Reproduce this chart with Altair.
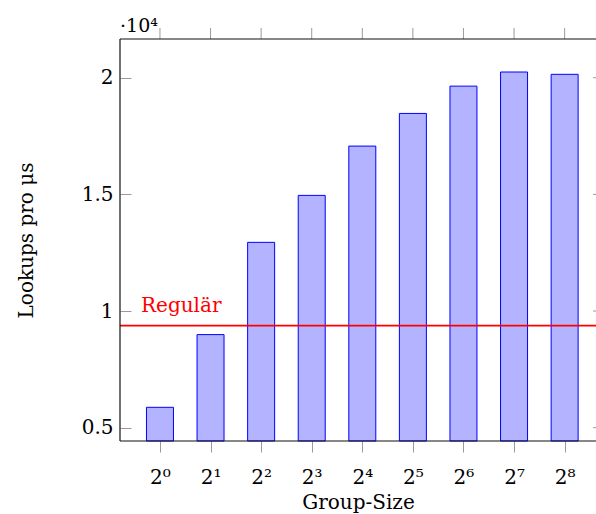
import altair as alt
import pandas as pd

# ---- data ----
labels = ['2⁰', '2¹', '2²', '2³', '2⁴', '2⁵', '2⁶', '2⁷', '2⁸']
lookups = [5874, 8990, 12945, 14957, 17070, 18470, 19640, 20245, 20146]
regular = 9374
y_ticks = [5000, 10000, 15000, 20000]
y_tick_labels = ['0.5', '1', '1.5', '2']

W, H = 476, 402
FONT = 'DejaVu Serif'
FS = 20
TICK = '#9a9a9a'
YMIN, YMAX = 4430, 21660

df = pd.DataFrame({'pos': list(range(len(labels))), 'value': lookups})
ydf = pd.DataFrame({'value': y_ticks})
one = pd.DataFrame({'regular': [regular]})  # single row for one-off marks

xscale = alt.Scale(domain=[-0.79, 8.62], nice=False, zero=False, padding=0)
yscale = alt.Scale(domain=[YMIN, YMAX], nice=False, zero=False, padding=0)

x_label_expr = "[" + ",".join("'%s'" % l for l in labels) + "][datum.value]"
y_label_expr = ("[" + ",".join("'%s'" % l for l in y_tick_labels) + "][indexof(["
                + ",".join(str(v) for v in y_ticks) + "], datum.value)]")

bars = alt.Chart(df).mark_bar(size=27, fill='#b3b3ff', stroke='#0000ff', strokeWidth=1).encode(
    x=alt.X('pos:Q', scale=xscale,
            axis=alt.Axis(values=list(range(len(labels))), labelExpr=x_label_expr,
                          title='Group-Size', tickSize=11, tickColor=TICK, domain=False,
                          grid=False, labelFont=FONT, labelFontSize=FS, labelColor='black',
                          labelPadding=15, titleFont=FONT, titleFontSize=FS,
                          titleFontWeight='normal', titleColor='black', titlePadding=5)),
    y=alt.Y('value:Q', scale=yscale,
            axis=alt.Axis(values=y_ticks, labelExpr=y_label_expr, offset=-11, tickSize=11,
                          tickColor=TICK, domain=False, grid=False, labelFont=FONT,
                          labelFontSize=FS, labelColor='black', labelPadding=7,
                          title='Lookups pro μs', titleFont=FONT, titleFontSize=FS,
                          titleFontWeight='normal', titleColor='black', titlePadding=45)),
    y2=alt.Y2(datum=YMIN),
)

reg_line = alt.Chart(one).mark_rule(color='#ff0000', strokeWidth=1.6).encode(
    y=alt.Y('regular:Q', scale=yscale)
)

reg_text = alt.Chart(one).mark_text(
    text='Regulär', color='#ff0000', font=FONT, fontSize=FS, fontWeight='normal',
    align='left', baseline='alphabetic', dy=-14
).encode(x=alt.value(21), y=alt.Y('regular:Q', scale=yscale))

top_ticks = alt.Chart(df).mark_rule(color=TICK).encode(
    x=alt.X('pos:Q', scale=xscale), y=alt.value(-11), y2=alt.value(0)
)
right_ticks = alt.Chart(ydf).mark_rule(color=TICK).encode(
    y=alt.Y('value:Q', scale=yscale), x=alt.value(W - 3), x2=alt.value(W)
)

frame_left = alt.Chart(one).mark_rule(color='#111', strokeWidth=1.2).encode(
    x=alt.value(0), y=alt.value(0), y2=alt.value(H))
frame_top = alt.Chart(one).mark_rule(color='#111', strokeWidth=1.2).encode(
    y=alt.value(0), x=alt.value(0), x2=alt.value(W))
frame_bottom = alt.Chart(one).mark_rule(color='#111', strokeWidth=1.2).encode(
    y=alt.value(H), x=alt.value(0), x2=alt.value(W))

exp_text = alt.Chart(one).mark_text(
    text='·10⁴', color='black', font=FONT, fontSize=19, fontWeight='normal',
    align='left', baseline='alphabetic'
).encode(x=alt.value(0), y=alt.value(-7))

chart = alt.layer(
    bars, reg_line, reg_text, top_ticks, right_ticks,
    frame_left, frame_top, frame_bottom, exp_text
).properties(
    width=W, height=H,
    padding={'left': 120, 'top': 39, 'right': 0, 'bottom': 73},
    autosize=alt.AutoSizeParams(type='none'),
).configure_view(stroke=None)

chart.save("out.html", embed_options={"renderer": "svg", "actions": False})
